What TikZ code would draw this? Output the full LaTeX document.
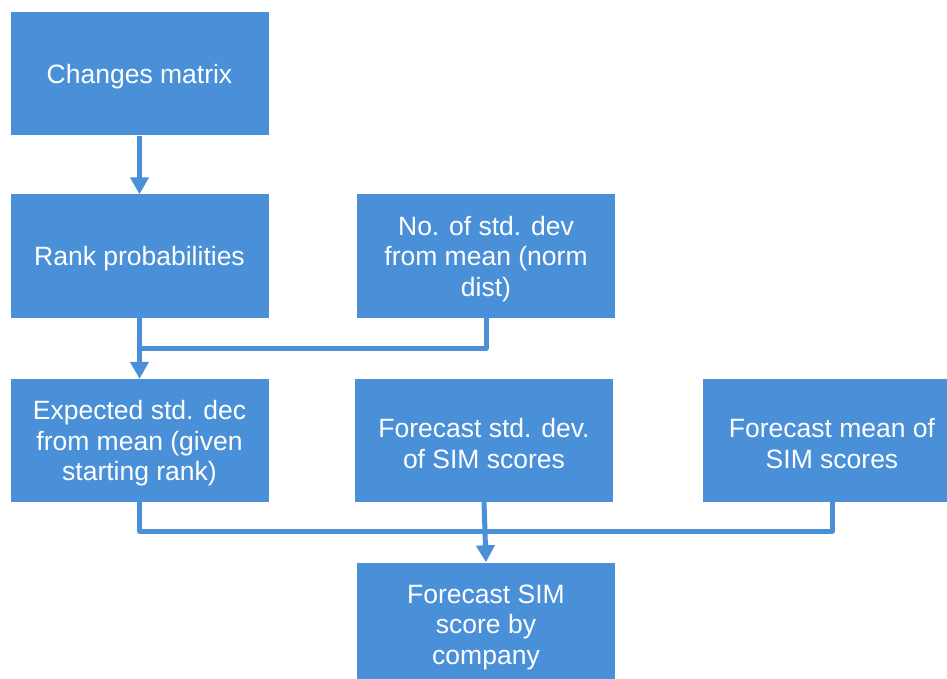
\documentclass[tikz,border=0pt]{standalone}
\usepackage{fontspec}
\setmainfont{Liberation Sans}
\usetikzlibrary{arrows.meta}
\definecolor{boxblue}{RGB}{74,144,217}
\begin{document}
\begin{tikzpicture}[x=1pt,y=-1pt,
  box/.style={fill=boxblue, draw=none, minimum width=258pt, minimum height=123pt, inner sep=0pt},
  lbl/.style={text=white, inner sep=0pt, align=center, font=\fontsize{26.5}{30.5}\selectfont},
  link/.style={draw=boxblue, line width=5pt, line join=round},
  arr/.style={link, -{Triangle[width=18pt,length=17pt]}}]
\useasboundingbox (0,0) rectangle (947,679);
\clip (0,0) rectangle (947,679);
\node[box] (cm) at (139.5,74) {};
\node[box] (rp) at (139.5,256) {};
\node[box] (nsd) at (486,256) {};
\node[box] (esd) at (139.5,440.5) {};
\node[box] (fsd) at (484,440.5) {};
\node[box] (fm) at (832,440.5) {};
\node[box] (fs) at (486,624) {};
\node[lbl] (tcm) at ([yshift=-3pt]cm.center) {Changes matrix};
\node[lbl] (trp) at ([yshift=-3pt]rp.center) {Rank probabilities};
\node[lbl] (tnsd) at ([yshift=-3pt]nsd.center) {No. of std. dev\\from mean (norm\\dist)};
\node[lbl] (tesd) at ([yshift=-3pt]esd.center) {Expected std. dec\\from mean (given\\starting rank)};
\node[lbl] (tfsd) at ([yshift=-3pt]fsd.center) {Forecast std. dev.\\of SIM scores};
\node[lbl] (tfm) at ([yshift=-3pt]fm.center) {Forecast mean of\\SIM scores};
\node[lbl] (tfs) at ([yshift=-3pt]fs.center) {Forecast SIM\\score by\\company};
\coordinate (j1) at (140,348);
\coordinate (j2) at (139.5,531);
\coordinate (j3) at (832,531);
\draw[arr] (cm.south) -- (rp.north);
\draw[arr] (rp.south) -- (esd.north);
\draw[link] (nsd.south) |- (j1);
\draw[link] (esd.south) -- (j2) -- (j3) -- (fm.south);
\draw[arr] (fsd.south) -- (fs.north);
\end{tikzpicture}
\end{document}
